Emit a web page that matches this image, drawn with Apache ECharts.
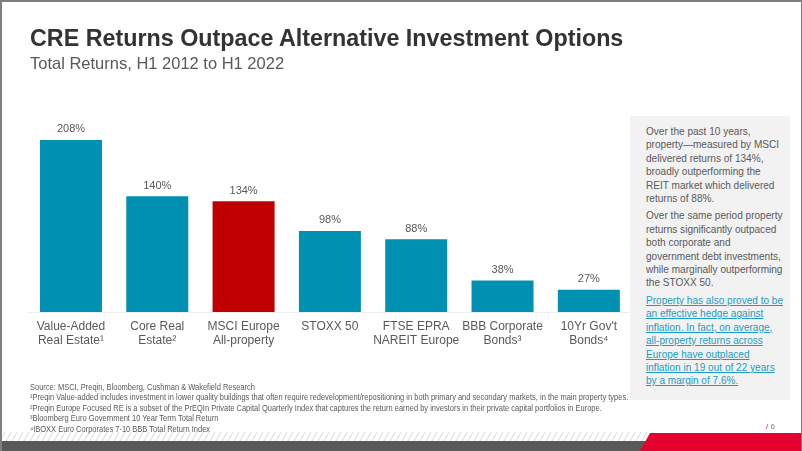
<!DOCTYPE html>
<html>
<head>
<meta charset="utf-8">
<script src="https://cdn.jsdelivr.net/npm/echarts@6/dist/echarts.min.js"></script>
<style>
html,body{margin:0;padding:0;background:#fff;}
#wrap{position:relative;width:802px;height:451px;overflow:hidden;font-family:"Liberation Sans",Arial,sans-serif;}
#chart{position:absolute;left:0;top:0;width:802px;height:451px;}
#frame{position:absolute;left:0;top:0;width:799px;height:449px;border-top:2px solid #7f7f7f;border-left:2px solid #7f7f7f;border-right:1px solid #7f7f7f;pointer-events:none;}
#title{position:absolute;left:30px;top:25px;font-size:23.3px;font-weight:bold;color:#333;white-space:nowrap;}
#subtitle{position:absolute;left:30px;top:54px;font-size:16.5px;color:#595959;white-space:nowrap;}
#panel{position:absolute;left:630px;top:116px;width:160px;height:284px;background:#f2f2f2;}
#panel .txt{position:absolute;left:16px;top:9px;font-size:11.5px;line-height:13.4px;color:#595959;white-space:nowrap;transform:scaleX(0.875);transform-origin:0 0;}
#panel p{margin:0 0 4px 0;}
#panel a{color:#1b9cc0;text-decoration:underline;}
#notes{position:absolute;left:30px;top:383px;font-size:8.2px;line-height:10.4px;color:#595959;white-space:nowrap;transform:scaleX(0.915);transform-origin:0 0;}
#page{position:absolute;left:766px;top:422px;font-size:8px;color:#7f7f7f;}
#page span{color:#e4032e;}
</style>
</head>
<body>
<div id="wrap">
<div id="chart"></div>
<div id="title">CRE Returns Outpace Alternative Investment Options</div>
<div id="subtitle">Total Returns, H1 2012 to H1 2022</div>
<div id="panel"><div class="txt">
<p>Over the past 10 years,<br>property—measured by MSCI<br>delivered returns of 134%,<br>broadly outperforming the<br>REIT market which delivered<br>returns of 88%.</p>
<p>Over the same period property<br>returns significantly outpaced<br>both corporate and<br>government debt investments,<br>while marginally outperforming<br>the STOXX 50.</p>
<p><a>Property has also proved to be<br>an effective hedge against<br>inflation. In fact, on average,<br>all-property returns across<br>Europe have outplaced<br>inflation in 19 out of 22 years<br>by a margin of 7.6%.</a></p>
</div></div>
<div id="notes">
Source: MSCI, Preqin, Bloomberg, Cushman &amp; Wakefield Research<br>
¹Preqin Value-added includes investment in lower quality buildings that often require redevelopment/repositioning in both primary and secondary markets, in the main property types.<br>
²Preqin Europe Focused RE is a subset of the PrEQIn Private Capital Quarterly Index that captures the return earned by investors in their private capital portfolios in Europe.<br>
³Bloomberg Euro Government 10 Year Term Total Return<br>
⁴IBOXX Euro Corporates 7-10 BBB Total Return Index
</div>
<div id="page"><span>/</span> 6</div>
<div id="frame"></div>
</div>
<script>
const categories = [
  "Value-Added\nReal Estate¹",
  "Core Real\nEstate²",
  "MSCI Europe\nAll-property",
  "STOXX 50",
  "FTSE EPRA\nNAREIT Europe",
  "BBB Corporate\nBonds³",
  "10Yr Gov't\nBonds⁴"
];
const values = [208, 140, 134, 98, 88, 38, 27];
const highlightIndex = 2;

const chart = echarts.init(document.getElementById('chart'), null, {renderer: 'canvas'});

// hatch stripes for footer
const stripes = [];
for (let x = 0; x < 650; x += 6) {
  stripes.push({
    type: 'line',
    shape: {x1: x, y1: 441, x2: x + 5, y2: 432},
    style: {stroke: '#d9d9d9', lineWidth: 1},
    silent: true
  });
}

chart.setOption({
  animation: false,
  grid: {left: 27.8, right: 170, top: 130, bottom: 139, containLabel: false},
  xAxis: {
    type: 'category',
    data: categories,
    axisLine: {show: true, lineStyle: {color: '#eeeeee', width: 1}},
    axisTick: {show: false},
    axisLabel: {
      color: '#595959',
      fontSize: 12,
      lineHeight: 14,
      margin: 8,
      interval: 0,
      fontFamily: 'Liberation Sans, Arial, sans-serif'
    }
  },
  yAxis: {
    type: 'value',
    min: 0,
    max: 220,
    show: false,
    splitLine: {show: false}
  },
  series: [{
    type: 'bar',
    barWidth: 62,
    data: values.map((v, i) => ({
      value: v,
      itemStyle: {color: i === highlightIndex ? '#c00000' : '#0091b2'}
    })),
    label: {
      show: true,
      position: 'top',
      distance: 5,
      color: '#595959',
      fontSize: 11,
      fontFamily: 'Liberation Sans, Arial, sans-serif',
      formatter: p => p.value + '%'
    }
  }],
  graphic: [
    ...stripes,
    {type: 'rect', shape: {x: 0, y: 441, width: 802, height: 10}, style: {fill: '#595959'}, silent: true},
    {type: 'polygon', shape: {points: [[650, 433], [802, 433], [802, 451], [640, 451]]}, style: {fill: '#e4032e'}, silent: true}
  ]
});
</script>
</body>
</html>
